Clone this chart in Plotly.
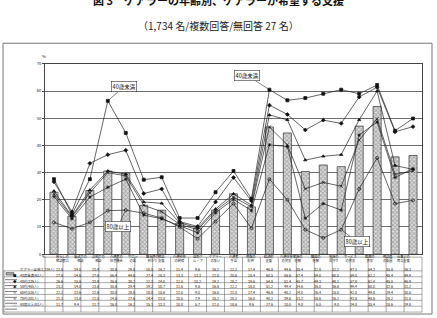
import plotly.graph_objects as go

W, H = 437, 318

categories = ["暮らしの\n相談窓口", "電話での\n相談", "訪問での\n相談", "介護者の\n休息機会", "サロン\nの場",
              "緊急時の\n預かり", "相談\n支援", "介護技術\nの研修", "自助グ\nループ", "ケアラー\nの集い",
              "介護者\n手当", "情報の\n提供", "経済的\n支援", "介護休業\nの充実", "家族の\n理解",
              "職場の\n理解", "地域の\n見守り", "サービス\nの充実", "医療の\n充実", "相談員\nの配置",
              "仕事との\n両立支援"]

all_carers = [22.8, 14.0, 23.4, 30.6, 29.8, 18.0, 16.2, 11.4, 9.6, 16.2, 22.2, 17.4, 46.8, 44.6, 30.4,
              32.8, 32.2, 47.1, 54.3, 35.8, 36.3]
under40 = [27.6, 14.6, 27.6, 56.4, 44.6, 27.4, 28.3, 13.3, 13.3, 22.8, 30.6, 20.4, 60.5, 56.6, 57.4,
           59.0, 60.5, 59.0, 62.2, 45.4, 49.9]
age40s = [26.6, 15.6, 33.4, 36.6, 38.2, 22.3, 24.0, 12.0, 10.2, 19.2, 28.2, 19.6, 54.8, 51.4, 45.7,
          49.3, 48.1, 57.8, 61.4, 45.0, 46.9]
age50s = [23.2, 14.0, 23.6, 30.6, 29.4, 19.2, 18.7, 11.6, 9.6, 16.6, 22.2, 18.0, 51.2, 49.4, 34.6,
          36.0, 36.6, 49.4, 60.0, 32.6, 31.2]
age60s = [22.2, 13.6, 22.6, 30.0, 28.8, 18.0, 15.6, 11.0, 9.0, 16.0, 21.0, 17.4, 46.8, 40.2, 24.0,
          26.4, 25.0, 42.0, 49.8, 29.4, 30.5]
age70s = [21.2, 13.0, 21.0, 24.6, 27.6, 14.4, 13.0, 10.5, 7.9, 15.2, 20.2, 16.0, 40.2, 39.6, 13.2,
          18.6, 16.2, 43.8, 48.6, 28.2, 31.5]
over80 = [11.7, 9.4, 11.7, 16.0, 16.2, 15.1, 13.3, 10.0, 5.7, 12.0, 18.6, 9.6, 27.6, 20.0, 9.0,
          6.0, 9.0, 24.0, 35.4, 18.6, 19.8]

bar_name = "ケアラー全体(1,734人)"
line_names = ["40歳未満(93人)", "40代(239人)", "50代(465人)", "60代(526人)", "70代(301人)", "80歳以上(83人)"]
line_values = [under40, age40s, age50s, age60s, age70s, over80]
line_symbols = ["square", "diamond", "triangle-up", "x-thin-open", "asterisk-open", "circle-open"]
symbol_chars = ["■", "◆", "▲", "×", "＊", "○"]

y_ticks = [0, 10, 20, 30, 40, 50, 60, 70]

# pixel geometry
PL, PR, PT, PB = 45, 422, 61, 255
FONT = "Noto Sans CJK JP, Noto Sans, sans-serif"


def px(x):
    return x / W


def py(y):
    return 1 - y / H


fig = go.Figure()
idx = list(range(len(categories)))
fig.add_trace(go.Bar(
    x=idx, y=all_carers, width=0.45, name=bar_name,
    marker=dict(color="#cfcfcf", line=dict(color="#333333", width=0.7),
                pattern=dict(shape="x", fgcolor="#6e6e6e", bgcolor="#dedede", size=3, solidity=0.5)),
))
for name, vals, sym in zip(line_names, line_values, line_symbols):
    fig.add_trace(go.Scatter(
        x=idx, y=vals, mode="lines+markers", name=name,
        line=dict(color="#222222", width=0.7),
        marker=dict(symbol=sym, size=3, color="#111111", line=dict(color="#111111", width=0.7)),
    ))

shapes = []
annotations = []

# outer frame
shapes.append(dict(type="rect", xref="paper", yref="paper", x0=px(3), x1=px(432), y0=py(316), y1=py(40),
                   line=dict(color="#777777", width=1)))

# title and subtitle
annotations.append(dict(text="<b>図 3　ケアラーの年齢別、ケアラーが希望する支援</b>", x=0.5, y=py(6),
                        xref="paper", yref="paper", yanchor="bottom", showarrow=False,
                        font=dict(size=11, color="#111", family=FONT)))
annotations.append(dict(text="（1,734 名/複数回答/無回答 27 名）", x=0.5, y=py(22),
                        xref="paper", yref="paper", yanchor="middle", showarrow=False,
                        font=dict(size=10, color="#222", family=FONT)))
annotations.append(dict(text="%", x=px(40), y=py(48), xref="paper", yref="paper", showarrow=False,
                        font=dict(size=4, color="#111", family=FONT)))

# callouts
for text, xi, yv, ax, ay in [("40歳未満", 3, under40[3], 16, -14), ("40歳未満", 12, under40[12], -22, -14),
                             ("80歳以上", 4, over80[4], -8, 16), ("80歳以上", 16, over80[16], 16, 12)]:
    annotations.append(dict(text=text, x=xi, y=yv, xref="x", yref="y", showarrow=True, arrowhead=0,
                            arrowwidth=0.6, arrowcolor="#333", ax=ax, ay=ay, standoff=2,
                            bordercolor="#333", borderwidth=0.6, bgcolor="white", borderpad=1,
                            font=dict(size=5.5, color="#111", family=FONT)))

# data table
n = len(categories)
colw = (PR - PL) / n
T_TOP, HEAD_BOT, T_BOT = 258, 272, 314
row_h = (T_BOT - HEAD_BOT) / 7
lc = dict(color="#555555", width=0.5)
for yline in [T_TOP] + [HEAD_BOT + row_h * k for k in range(8)]:
    x0 = PL if yline == T_TOP else 4
    shapes.append(dict(type="line", xref="paper", yref="paper", x0=px(x0), x1=px(PR), y0=py(yline), y1=py(yline), line=lc))
for k in range(n + 1):
    xl = PL + colw * k
    shapes.append(dict(type="line", xref="paper", yref="paper", x0=px(xl), x1=px(xl), y0=py(T_TOP), y1=py(T_BOT), line=lc))
shapes.append(dict(type="line", xref="paper", yref="paper", x0=px(4), x1=px(4), y0=py(HEAD_BOT), y1=py(T_BOT), line=lc))
annotations.append(dict(text="%", x=px(40), y=py(262), xref="paper", yref="paper", showarrow=False,
                        font=dict(size=3.5, color="#111", family=FONT)))
for k, c in enumerate(categories):
    annotations.append(dict(text=c.replace("\n", "<br>"), x=px(PL + colw * (k + 0.5)), y=py((T_TOP + HEAD_BOT) / 2 + 0.8),
                            xref="paper", yref="paper", showarrow=False,
                            font=dict(size=3.2, color="#111", family=FONT)))
rows = [(bar_name, all_carers, None)] + list(zip(line_names, line_values, symbol_chars))
for r, (name, vals, sch) in enumerate(rows):
    yc = HEAD_BOT + row_h * (r + 0.5)
    if sch is None:
        shapes.append(dict(type="rect", xref="paper", yref="paper", x0=px(6), x1=px(14), y0=py(yc + 1.3), y1=py(yc - 1.3),
                           fillcolor="#aaaaaa", line=dict(color="#333", width=0.5)))
    else:
        shapes.append(dict(type="line", xref="paper", yref="paper", x0=px(5), x1=px(17), y0=py(yc), y1=py(yc),
                           line=dict(color="#222", width=0.6)))
        annotations.append(dict(text=sch, x=px(11), y=py(yc), xref="paper", yref="paper", showarrow=False,
                                font=dict(size=3.5, color="#111", family=FONT)))
    annotations.append(dict(text=name, x=px(17.5), y=py(yc), xref="paper", yref="paper", xanchor="left",
                            showarrow=False, font=dict(size=3.4, color="#111", family=FONT)))
    for k, v in enumerate(vals):
        annotations.append(dict(text=f"{v:.1f}", x=px(PL + colw * (k + 0.5)), y=py(yc), xref="paper", yref="paper",
                                showarrow=False, font=dict(size=3.6, color="#111", family=FONT)))

fig.update_layout(
    width=W, height=H, margin=dict(l=0, r=0, t=0, b=0),
    paper_bgcolor="white", plot_bgcolor="white", showlegend=False,
    font=dict(family=FONT),
    shapes=shapes, annotations=annotations,
    xaxis=dict(domain=[px(PL), px(PR)], range=[-0.5, n - 0.5], showticklabels=False, showgrid=False,
               showline=True, linecolor="#444", linewidth=0.8, mirror=True, zeroline=False, ticks=""),
    yaxis=dict(domain=[py(PB), py(PT)], range=[0, 70], tickvals=y_ticks, showgrid=True, gridcolor="#6e6e6e",
               gridwidth=0.8, showline=True, linecolor="#444", linewidth=0.8, mirror=True, zeroline=False,
               ticks="outside", ticklen=2, tickcolor="#444", tickfont=dict(size=4, color="#111")),
    bargap=0.5,
)

fig.write_html("out.html")
